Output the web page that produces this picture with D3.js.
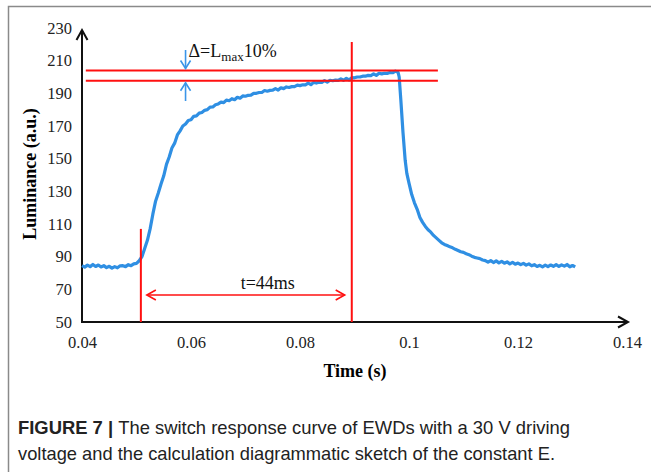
<!DOCTYPE html>
<html>
<head>
<meta charset="utf-8">
<script src="https://cdn.jsdelivr.net/npm/d3@7"></script>
<style>
  body { margin: 0; background: #fff; }
  svg { display: block; }
</style>
</head>
<body>
<div id="chart"></div>
<script>
// luminance trace, [time in ms, luminance a.u.]
let curve = [
  [40.0,84.5],[40.5,83.6],[41.0,84.8],[41.5,83.9],[42.0,85.2],[42.5,84.0],[43.0,84.9],[43.5,83.7],
  [44.0,84.5],[44.5,83.3],[45.0,84.1],[45.5,83.0],[46.0,83.9],[46.5,83.2],[47.0,84.4],[47.5,84.5],
  [48.0,83.9],[48.5,85.1],[49.0,84.5],[49.5,85.6],[50.0,85.9],[50.5,87.5],[51.0,90],[51.5,95],
  [52.0,100],[52.5,107],[53.0,116],[53.5,124],[54.0,129],[54.5,134.5],[55.0,139.5],[55.5,146.5],
  [56.0,151],[56.5,156.5],[57.0,159.5],[57.5,164.5],[58.0,167],[58.5,170],[59.0,171.2],[59.5,173.4],
  [60.0,173.8],[60.5,175.9],[61.0,176.2],[61.5,177.9],[62.0,178.3],[62.5,179.6],[63.0,180.0],[63.5,181.6],
  [64.0,181.7],[64.5,183.0],[65.0,183.5],[65.5,184.6],[66.0,184.3],[66.5,185.9],[67.0,185.5],[67.5,186.7],
  [68.0,186.1],[68.5,187.6],[69.0,187.0],[69.5,188.4],[70.0,188.2],[70.5,188.8],[71.0,188.9],[71.5,190.0],
  [72.0,190.0],[72.5,190.5],[73.0,190.5],[73.5,191.7],[74.0,191.3],[74.5,191.8],[75.0,191.9],[75.5,192.9],
  [76.0,192.0],[76.5,193.4],[77.0,192.9],[77.5,193.9],[78.0,193.6],[78.5,194.1],[79.0,194.1],[79.5,195.0],
  [80.0,194.7],[80.5,195.2],[81.0,195.2],[81.5,196.2],[82.0,195.3],[82.5,196.7],[83.0,196.3],[83.5,196.8],
  [84.0,196.7],[84.5,197.8],[85.0,196.9],[85.5,198.0],[86.0,197.7],[86.5,198.1],[87.0,197.9],[87.5,198.9],
  [88.0,198.0],[88.5,199.2],[89.0,198.2],[89.5,199.6],[90.0,199.5],[90.5,200.0],[91.0,200.0],[91.5,200.5],
  [92.0,200.5],[92.5,201.0],[93.0,200.9],[93.5,201.9],[94.0,201.0],[94.5,202.3],[95.0,201.9],[95.5,202.3],
  [96.0,202.2],[96.5,202.7],[97.0,202.6],[97.5,203.6],[98.0,202.8],[98.2,200],[98.5,186],[98.9,166],
  [99.3,149],[99.6,141],[100.0,135],[100.5,128],[101.0,123],[101.5,119],[102.0,114],[102.5,111],
  [103.0,108.5],[103.5,106.5],[104.0,105],[104.5,103],[105.0,101.5],[105.5,100],[106.0,98.5],[106.5,97.5],
  [107.0,96.8],[107.5,96],[108.0,95.4],[108.5,94.5],[109.0,93.8],[109.5,93],[110.0,92.6],[110.5,91.8],
  [111.0,91.2],[111.5,90.3],[112.0,89.6],[112.5,89.2],[113.0,88.8],[113.5,88],[114.0,87.6],[114.5,86.6],
  [115.0,87.6],[115.5,86.4],[116.0,87.4],[116.5,86.2],[117.0,87.1],[117.5,86.0],[118.0,86.8],[118.5,85.6],
  [119.0,86.5],[119.5,85.4],[120.0,86.1],[120.5,85.1],[121.0,85.9],[121.5,84.8],[122.0,85.6],[122.5,84.4],
  [123.0,85.1],[123.5,84.0],[124.0,84.7],[124.5,83.8],[125.0,84.8],[125.5,83.9],[126.0,84.9],[126.5,84.1],
  [127.0,85.1],[127.5,84.0],[128.0,85.0],[128.5,84.2],[129.0,85.2],[129.5,83.8],[130.0,84.6],[130.5,83.7]
];

let xTicks = [0.04, 0.06, 0.08, 0.1, 0.12, 0.14];
let yTicks = [50, 70, 90, 110, 130, 150, 170, 190, 210, 230];

// annotation values
let levelHigh = 204, levelLow = 197.7;
let levelSpan = [0.0407, 0.1053];
let tStart = 0.0508, tStartTop = 107;
let tEnd = 0.0895, tEndTop = 221.5;
let arrowSpan = [0.0519, 0.0882], arrowLevel = 66.5;
let deltaT = 0.059;

let W = 651, H = 472;
let svg = d3.select("#chart").append("svg").attr("width", W).attr("height", H);

// outer frame (open on the right and bottom, as in the page crop)
svg.append("path")
  .attr("d", "M8.5," + (H + 5) + "V6.5H" + (W + 5))
  .attr("fill", "none").attr("stroke", "#8a8a8a").attr("stroke-width", 1.5);

let x = d3.scaleLinear().domain([0.04, 0.14]).range([82, 627]);
let y = d3.scaleLinear().domain([50, 230]).range([322, 28]);

let serif = "'Liberation Serif', 'Times New Roman', serif";

// tick labels
svg.append("g").attr("transform", "translate(0,326)")
  .call(d3.axisBottom(x).tickValues(xTicks).tickSize(0).tickPadding(10).tickFormat(d => String(d)))
  .call(g => g.select(".domain").remove())
  .selectAll("text").attr("font-family", serif).attr("font-size", 16.5).attr("fill", "#222");

svg.append("g").attr("transform", "translate(72,0)")
  .call(d3.axisLeft(y).tickValues(yTicks).tickSize(0).tickPadding(0))
  .call(g => g.select(".domain").remove())
  .selectAll("text").attr("font-family", serif).attr("font-size", 16.5).attr("fill", "#222");

// axis lines with open arrow heads
let axes = svg.append("g").attr("stroke", "#111").attr("stroke-width", 2).attr("fill", "none");
axes.append("path").attr("d", "M82," + y(50) + "V30");
axes.append("path").attr("d", "M76.5,40L82,30L87.5,40");
axes.append("path").attr("d", "M81," + y(50) + "H628");
axes.append("path").attr("d", "M618," + (y(50) - 5.5) + "L628," + y(50) + "L618," + (y(50) + 5.5));

// axis titles
svg.append("text")
  .attr("transform", "translate(36,174) rotate(-90)")
  .attr("text-anchor", "middle")
  .attr("font-family", serif).attr("font-size", 18).attr("font-weight", "bold")
  .text("Luminance (a.u.)");

svg.append("text")
  .attr("x", 355).attr("y", 377)
  .attr("text-anchor", "middle")
  .attr("font-family", serif).attr("font-size", 18).attr("font-weight", "bold")
  .text("Time (s)");

// luminance curve
let line = d3.line()
  .x(d => x(d[0] / 1000))
  .y(d => y(d[1]));

svg.append("path")
  .datum(curve)
  .attr("d", line)
  .attr("fill", "none")
  .attr("stroke", "#2f8fe3")
  .attr("stroke-width", 3.2)
  .attr("stroke-linejoin", "round");

// red reference lines
let red = svg.append("g").attr("stroke", "#ff1010").attr("stroke-width", 2).attr("fill", "none");
[levelHigh, levelLow].forEach(v => {
  red.append("line")
    .attr("x1", x(levelSpan[0])).attr("x2", x(levelSpan[1]))
    .attr("y1", y(v)).attr("y2", y(v));
});
red.append("line")
  .attr("x1", x(tStart)).attr("x2", x(tStart))
  .attr("y1", y(tStartTop)).attr("y2", y(50));
red.append("line")
  .attr("x1", x(tEnd)).attr("x2", x(tEnd))
  .attr("y1", y(tEndTop)).attr("y2", y(50));

// t = 44 ms double arrow
let ax0 = x(arrowSpan[0]), ax1 = x(arrowSpan[1]), ay = y(arrowLevel);
let arrow = svg.append("g").attr("stroke", "#ff1010").attr("stroke-width", 1.6).attr("fill", "none");
arrow.append("line").attr("x1", ax0).attr("x2", ax1).attr("y1", ay).attr("y2", ay);
arrow.append("path").attr("d", "M" + (ax0 + 9) + "," + (ay - 5) + "L" + ax0 + "," + ay + "L" + (ax0 + 9) + "," + (ay + 5));
arrow.append("path").attr("d", "M" + (ax1 - 9) + "," + (ay - 5) + "L" + ax1 + "," + ay + "L" + (ax1 - 9) + "," + (ay + 5));

svg.append("text")
  .attr("x", (ax0 + ax1) / 2 + 22).attr("y", ay - 6)
  .attr("text-anchor", "middle")
  .attr("font-family", serif).attr("font-size", 18).attr("fill", "#111")
  .text("t=44ms");

// delta arrows (blue)
let dx = x(deltaT);
let blue = svg.append("g").attr("stroke", "#3a95e8").attr("stroke-width", 1.6).attr("fill", "none");
let topTip = y(levelHigh) - 2, botTip = y(levelLow) + 2;
blue.append("line").attr("x1", dx).attr("x2", dx).attr("y1", 50).attr("y2", topTip);
blue.append("path").attr("d", "M" + (dx - 5) + "," + (topTip - 8) + "L" + dx + "," + topTip + "L" + (dx + 5) + "," + (topTip - 8));
blue.append("line").attr("x1", dx).attr("x2", dx).attr("y1", 101).attr("y2", botTip);
blue.append("path").attr("d", "M" + (dx - 5) + "," + (botTip + 8) + "L" + dx + "," + botTip + "L" + (dx + 5) + "," + (botTip + 8));

let delta = svg.append("text")
  .attr("x", dx + 3).attr("y", 57)
  .attr("font-family", serif).attr("font-size", 18).attr("fill", "#111");
delta.append("tspan").text("\u0394=L");
delta.append("tspan").attr("font-size", 13).attr("dy", 4).text("max");
delta.append("tspan").attr("dy", -4).text("10%");

// caption
let sans = "'Liberation Sans Narrow', 'Arial Narrow', 'Liberation Sans', sans-serif";
let cap1 = svg.append("text").attr("x", 18).attr("y", 434)
  .attr("font-family", sans).attr("font-size", 19).attr("fill", "#222")
  .attr("textLength", 552).attr("lengthAdjust", "spacingAndGlyphs");
cap1.append("tspan").attr("font-weight", "bold").text("FIGURE 7 | ");
cap1.append("tspan").text("The switch response curve of EWDs with a 30 V driving");

svg.append("text").attr("x", 18).attr("y", 460)
  .attr("font-family", sans).attr("font-size", 19).attr("fill", "#222")
  .attr("textLength", 537).attr("lengthAdjust", "spacingAndGlyphs")
  .text("voltage and the calculation diagrammatic sketch of the constant E.");
</script>
</body>
</html>
